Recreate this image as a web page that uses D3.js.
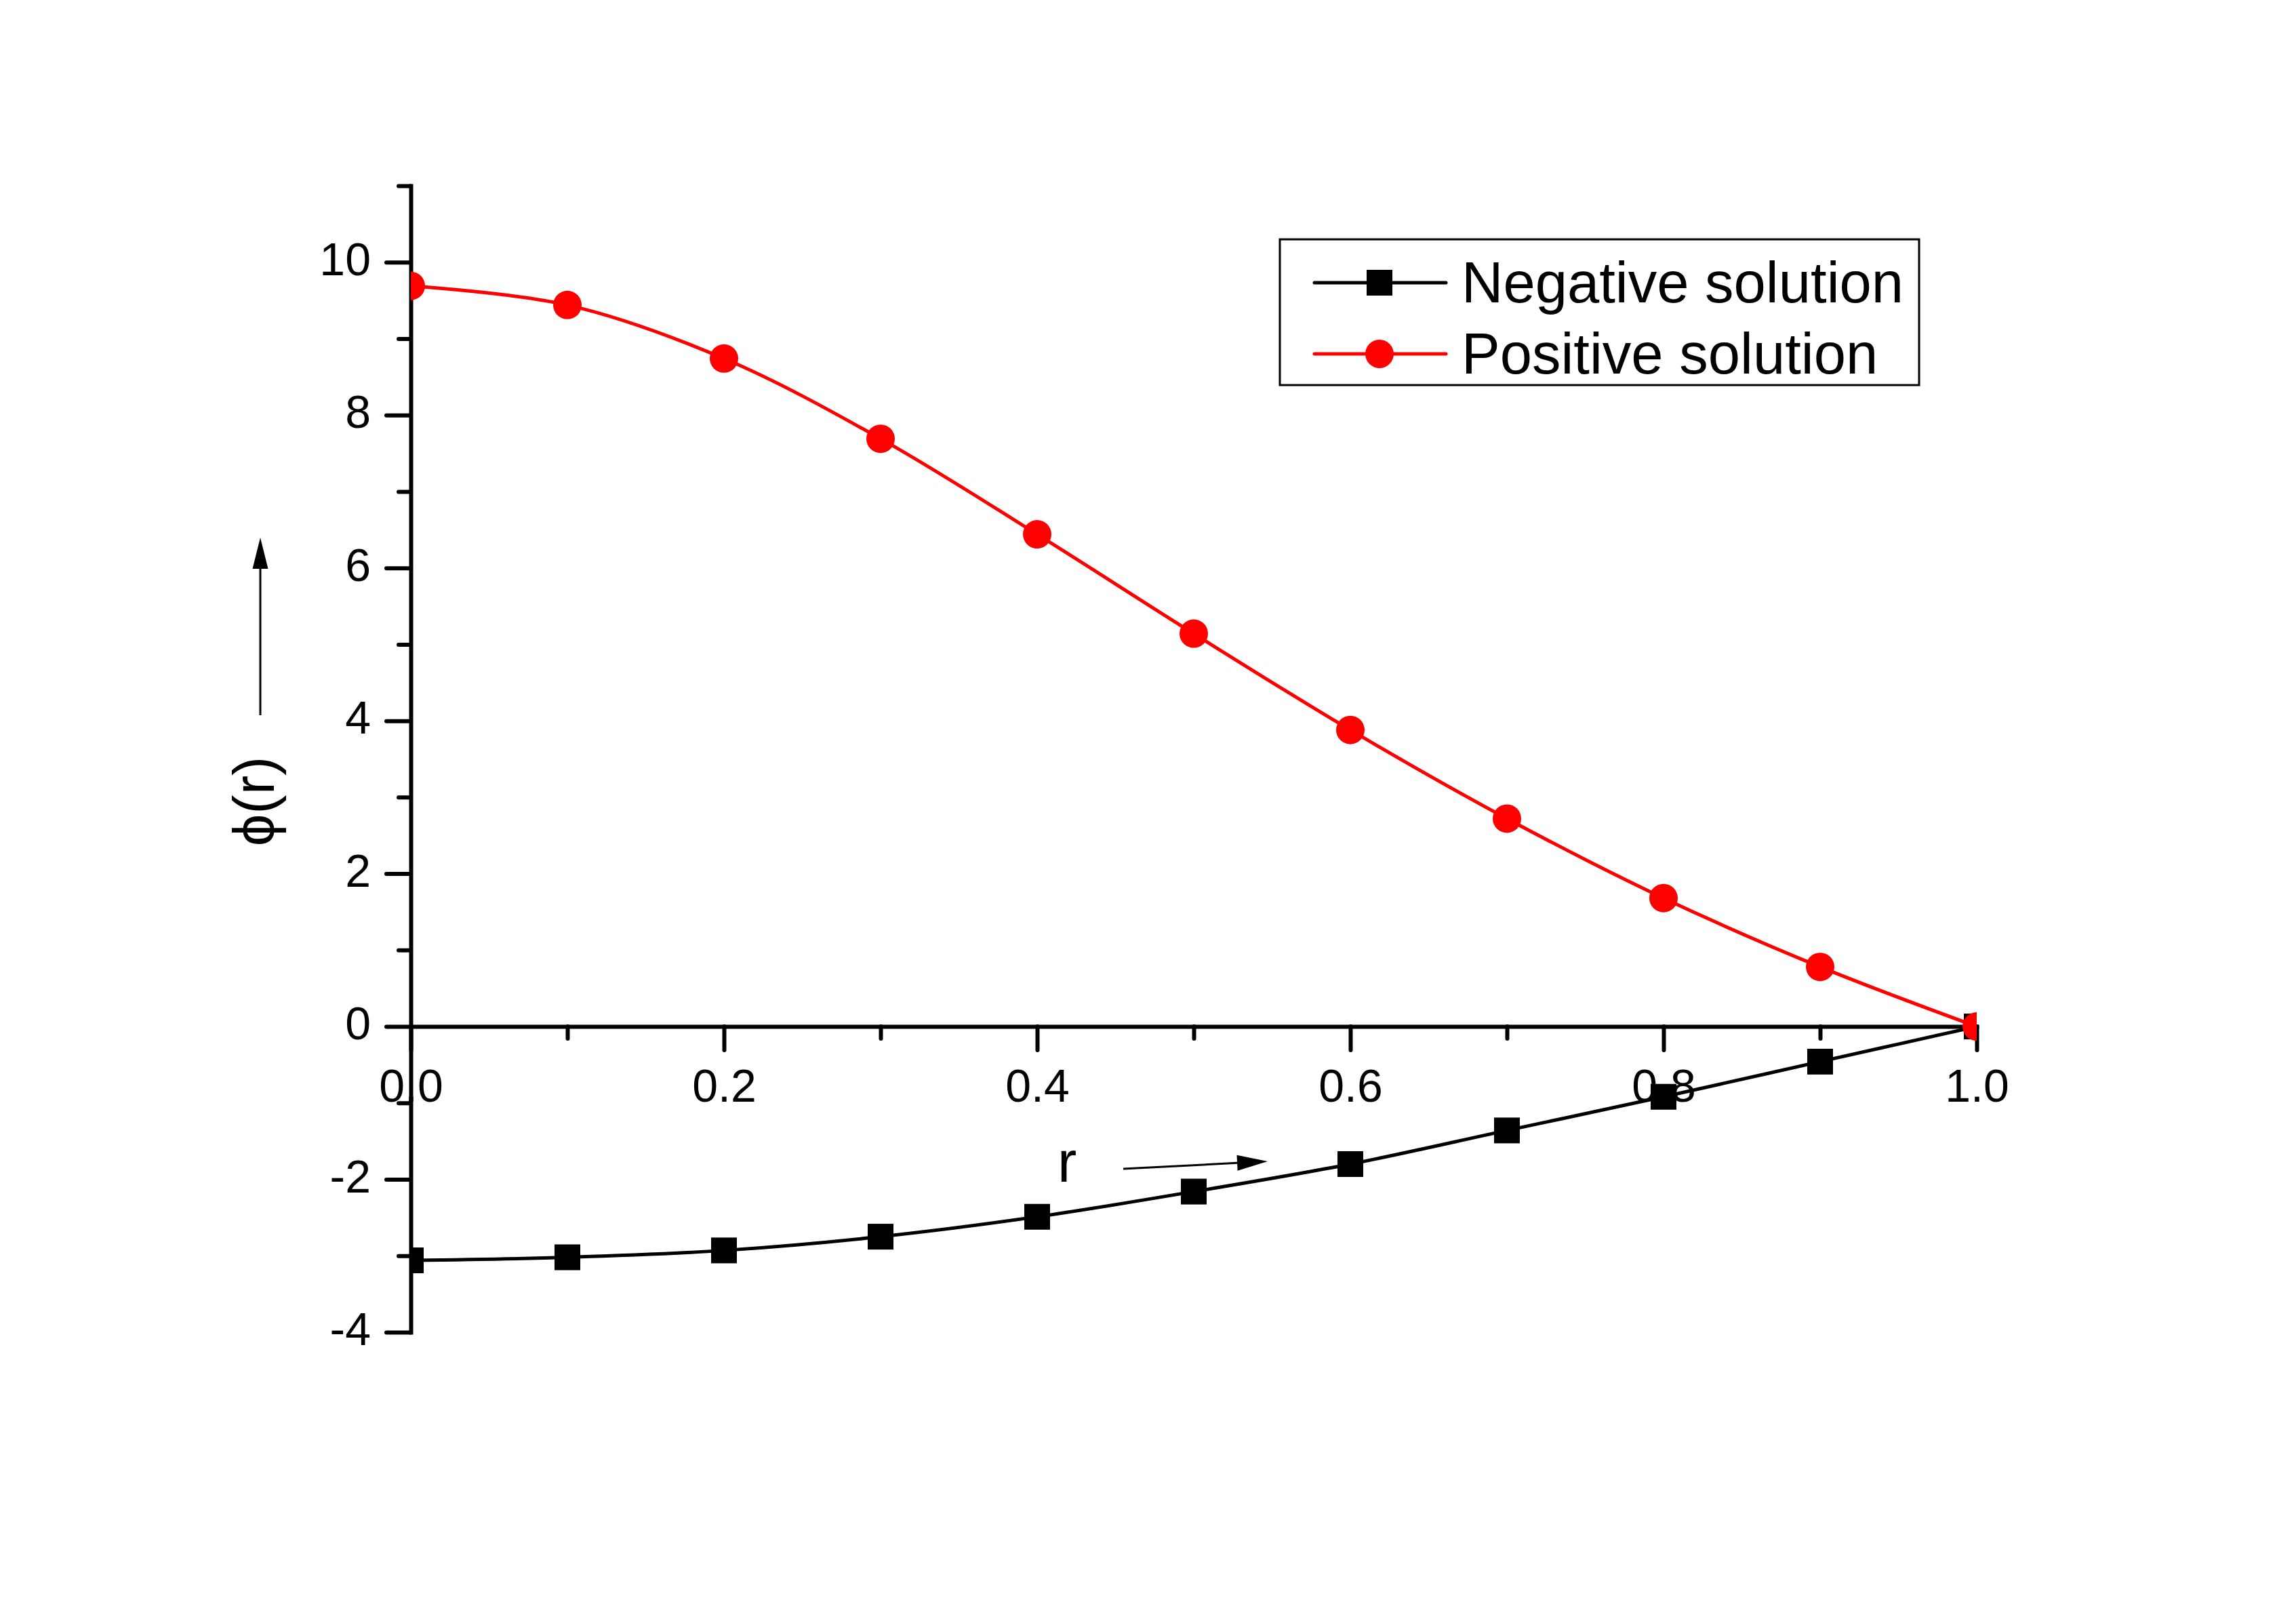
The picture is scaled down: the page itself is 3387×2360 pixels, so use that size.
<!DOCTYPE html>
<html>
<head>
<meta charset="utf-8">
<script src="https://cdn.jsdelivr.net/npm/d3@7"></script>
<style>
  html, body { margin: 0; padding: 0; background: #ffffff; }
  svg { display: block; }
  text { font-family: "Liberation Sans", Arial, "DejaVu Sans", sans-serif; fill: #000; }
</style>
</head>
<body>
<svg id="chart" width="3387" height="2360"></svg>
<script>
// ---- data ----
const rValues = [0.0, 0.1, 0.2, 0.3, 0.4, 0.5, 0.6, 0.7, 0.8, 0.9, 1.0];
const negativeSolution = [-3.06, -3.02, -2.93, -2.75, -2.49, -2.16, -1.80, -1.36, -0.92, -0.46, 0.0];
const positiveSolution = [9.69, 9.44, 8.74, 7.69, 6.44, 5.14, 3.88, 2.72, 1.68, 0.78, 0.0];
const seriesNames = ["Negative solution", "Positive solution"];
const seriesColors = ["#000000", "#ff0000"];

const xMajorTicks = [0.0, 0.2, 0.4, 0.6, 0.8, 1.0];
const xMajorLabels = ["0.0", "0.2", "0.4", "0.6", "0.8", "1.0"];
const xMinorTicks = [0.1, 0.3, 0.5, 0.7, 0.9];
const yMajorTicks = [-4, -2, 0, 2, 4, 6, 8, 10];
const yMajorLabels = ["-4", "-2", "0", "2", "4", "6", "8", "10"];
const yMinorTicks = [-3, -1, 1, 3, 5, 7, 9, 11];
const xDomain = [0, 1];
const yDomain = [-4, 11];
const xTitle = "r";
const yTitle = "\u03D5(r)";

// ---- layout ----
const svg = d3.select("#chart");
svg.append("rect").attr("width", 3387).attr("height", 2360).attr("fill", "#fff");

const x = d3.scaleLinear().domain(xDomain).range([606, 2916]);
const y = d3.scaleLinear().domain(yDomain).range([1965, 274]);

const tickFont = 68;
const axisWidth = 6;

// y axis (major)
const yAxisG = svg.append("g").attr("transform", `translate(${x(0)},0)`);
yAxisG.call(d3.axisLeft(y).tickValues(yMajorTicks).tickSize(36).tickSizeOuter(0)
  .tickFormat((d, i) => yMajorLabels[i]));
// y axis (minor)
const yMinorG = svg.append("g").attr("transform", `translate(${x(0)},0)`);
yMinorG.call(d3.axisLeft(y).tickValues(yMinorTicks).tickSize(18).tickSizeOuter(0).tickFormat(""));
yMinorG.select(".domain").remove();

// x axis at y=0 (major)
const xAxisG = svg.append("g").attr("transform", `translate(0,${y(0)})`);
xAxisG.call(d3.axisBottom(x).tickValues(xMajorTicks).tickSize(35).tickSizeOuter(0)
  .tickFormat((d, i) => xMajorLabels[i]));
const xMinorG = svg.append("g").attr("transform", `translate(0,${y(0)})`);
xMinorG.call(d3.axisBottom(x).tickValues(xMinorTicks).tickSize(18).tickSizeOuter(0).tickFormat(""));
xMinorG.select(".domain").remove();

[yAxisG, yMinorG, xAxisG, xMinorG].forEach(g => {
  g.selectAll(".domain").attr("stroke", "#000").attr("stroke-width", axisWidth).attr("stroke-linecap", "square");
  g.selectAll(".tick line").attr("stroke", "#000").attr("stroke-width", axisWidth).attr("stroke-linecap", "round");
});

yAxisG.selectAll(".tick text")
  .attr("x", -59).attr("dy", null).attr("y", 18.5)
  .attr("text-anchor", "end")
  .style("font-size", tickFont + "px")
  .style("font-family", "'Liberation Sans', Arial, sans-serif");
xAxisG.selectAll(".tick text")
  .attr("y", 111).attr("dy", null)
  .attr("text-anchor", "middle")
  .style("font-size", tickFont + "px")
  .style("font-family", "'Liberation Sans', Arial, sans-serif");

// ---- data marks ----
const clip = svg.append("clipPath").attr("id", "plotclip");
clip.append("rect")
  .attr("x", x(0)).attr("y", y(11))
  .attr("width", x(1) - x(0)).attr("height", y(-4) - y(11));

const plot = svg.append("g").attr("clip-path", "url(#plotclip)");
const lineGen = d3.line().x(d => x(d[0])).y(d => y(d[1])).curve(d3.curveCatmullRom.alpha(0.5));

const negPts = rValues.map((r, i) => [r, negativeSolution[i]]);
const posPts = rValues.map((r, i) => [r, positiveSolution[i]]);

// negative (black squares)
plot.append("path").datum(negPts).attr("d", lineGen)
  .attr("fill", "none").attr("stroke", seriesColors[0]).attr("stroke-width", 5);
const sq = 38;
plot.selectAll("rect.neg").data(negPts).enter().append("rect").attr("class", "neg")
  .attr("x", d => x(d[0]) - sq / 2).attr("y", d => y(d[1]) - sq / 2)
  .attr("width", sq).attr("height", sq).attr("fill", seriesColors[0]);

// positive (red circles)
plot.append("path").datum(posPts).attr("d", lineGen)
  .attr("fill", "none").attr("stroke", seriesColors[1]).attr("stroke-width", 5);
plot.selectAll("circle.pos").data(posPts).enter().append("circle").attr("class", "pos")
  .attr("cx", d => x(d[0])).attr("cy", d => y(d[1]))
  .attr("r", 21).attr("fill", seriesColors[1]);

// ---- legend ----
const legend = svg.append("g");
legend.append("rect").attr("x", 1888).attr("y", 353).attr("width", 943).attr("height", 215)
  .attr("fill", "#fff").attr("stroke", "#000").attr("stroke-width", 3);
const legendRows = [417, 522];
seriesNames.forEach((name, i) => {
  const ly = legendRows[i];
  legend.append("line").attr("x1", 1939).attr("x2", 2133).attr("y1", ly).attr("y2", ly)
    .attr("stroke", seriesColors[i]).attr("stroke-width", 5).attr("stroke-linecap", "round");
  if (i === 0) {
    legend.append("rect").attr("x", 2035 - sq / 2).attr("y", ly - sq / 2)
      .attr("width", sq).attr("height", sq).attr("fill", seriesColors[i]);
  } else {
    legend.append("circle").attr("cx", 2035).attr("cy", ly).attr("r", 21).attr("fill", seriesColors[i]);
  }
  legend.append("text").attr("x", 2156).attr("y", ly + 29)
    .style("font-size", "85px").text(name);
});

// ---- axis titles & arrows ----
svg.append("text").attr("x", 1560).attr("y", 1743).style("font-size", "85px").text(xTitle);

function arrow(x1, y1, x2, y2, headLen, headHalf) {
  const dx = x2 - x1, dy = y2 - y1, L = Math.hypot(dx, dy);
  const ux = dx / L, uy = dy / L;
  const bx = x2 - ux * headLen, by = y2 - uy * headLen;
  svg.append("line").attr("x1", x1).attr("y1", y1).attr("x2", bx).attr("y2", by)
    .attr("stroke", "#000").attr("stroke-width", 3);
  svg.append("polygon")
    .attr("points", [[x2, y2], [bx - uy * headHalf, by + ux * headHalf], [bx + uy * headHalf, by - ux * headHalf]]
      .map(p => p.join(",")).join(" "))
    .attr("fill", "#000");
}
arrow(1657, 1724, 1870, 1713, 45, 11.5);
arrow(384, 1055, 384, 793, 46, 11.5);

svg.append("text")
  .attr("transform", "translate(404,1182) rotate(-90)")
  .attr("text-anchor", "middle")
  .style("font-size", "85px")
  .text(yTitle);
</script>
</body>
</html>
